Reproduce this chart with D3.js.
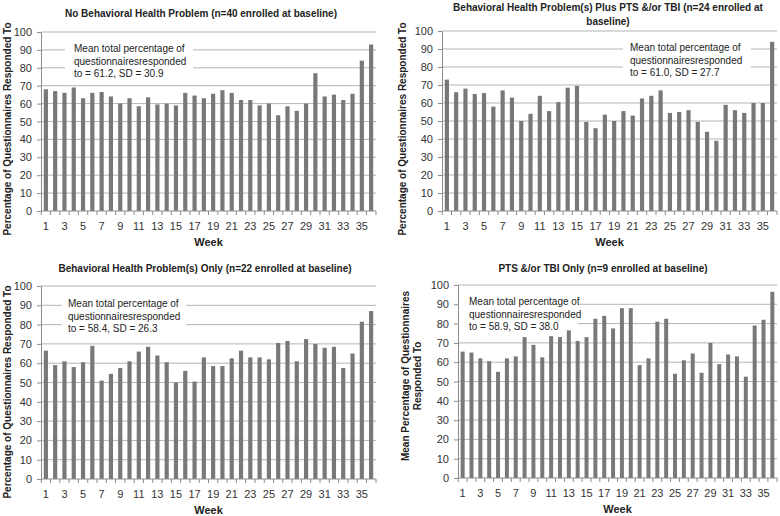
<!DOCTYPE html>
<html>
<head>
<meta charset="utf-8">
<script src="https://cdn.jsdelivr.net/npm/d3@7"></script>
<style>
  body { margin: 0; background: #fff; }
  text { font-family: "Liberation Sans", Arial, sans-serif; }
  .title, .ytitle, .xtitle { font-weight: bold; fill: #222; font-size: 10px; }
  .tick text { fill: #333; font-size: 11px; }
  .note { font-size: 10px; fill: #222; }
</style>
</head>
<body>
<div id="chart"></div>
<script>
// weeks on the x axis
const weeks = [1,2,3,4,5,6,7,8,9,10,11,12,13,14,15,16,17,18,19,20,21,22,23,24,25,26,27,28,29,30,31,32,33,34,35,36];
const yTicks = [0,10,20,30,40,50,60,70,80,90,100];

// percentage responded per week, one list per group
const noProblem = [68,67,66,69,63,66,66.5,64,60,63,58.5,63.5,59.5,60,59,66,64.5,63,65.5,67.5,66,62,62,59,60,53.5,58.5,56,60,77,64,65,62,65.5,84,93];
const plusPtsTbi = [73,66,68,65,65.5,58,67,63,50,54,64,55.5,60.5,68.5,69.5,49.5,46,53.5,50,55.5,53,62.5,64,67,54.5,55,56,49.5,44,39,59,56,54.5,60,60,94];
const problemOnly = [66.5,59,61,58,60.5,69,51,54.5,57.5,61,66,68.5,64,60.5,50,56,50.5,63,58.5,58.5,62.5,66.5,63,63,62,70.5,71.5,61,72.5,70,68,68.5,57.5,65,81.5,87];
const ptsTbiOnly = [65.5,65,62,60.5,55,62,63,73,69,62.5,73.5,73,76.5,71,73,82.5,84,77.5,88,88,58.5,62,81,82.5,54,61,64.5,54.5,70,59,64,63,52.5,79,82,96.5];

const titles = [
    ["No Behavioral  Health Problem (n=40 enrolled at baseline)"],
    ["Behavioral  Health Problem(s) Plus PTS &/or TBI (n=24 enrolled at", "baseline)"],
    ["Behavioral  Health Problem(s) Only (n=22 enrolled at baseline)"],
    ["PTS &/or TBI  Only (n=9 enrolled at baseline)"]
];
const yTitles = [
    ["Percentage of Questionnaires Responded  To"],
    ["Percentage of Questionnaires Responded  To"],
    ["Percentage of Questionnaires Responded  To"],
    ["Mean  Percentage of Questionnaires", "Responded  To"]
];
const notes = [
    ["Mean total percentage of", "questionnairesresponded", "to = 61.2, SD = 30.9"],
    ["Mean total percentage of", "questionnairesresponded", "to = 61.0, SD = 27.7"],
    ["Mean total percentage of", "questionnairesresponded", "to = 58.4, SD = 26.3"],
    ["Mean total percentage of", "questionnairesresponded", "to = 58.9, SD = 38.0"]
];
const series = [noProblem, plusPtsTbi, problemOnly, ptsTbiOnly];

// panel geometry (page pixels)
const panels = [
    {x0: 41, x1: 376, y0: 32, y1: 211, tx: 201, ty: 17, yx: 7, yc: 129, box: [65, 193, 38, 79], nx: 74, ny: 52},
    {x0: 442, x1: 777, y0: 31, y1: 211, tx: 608, ty: 11, yx: 402, yc: 129, box: [623, 751, 37, 79], nx: 630, ny: 51},
    {x0: 41, x1: 376, y0: 286, y1: 479, tx: 205, ty: 272, yx: 7, yc: 392, box: [62, 186, 292, 335], nx: 68, ny: 307},
    {x0: 458, x1: 777, y0: 285, y1: 478, tx: 603, ty: 272, yx: 405, yc: 376, box: [459, 578, 291, 334], nx: 469, ny: 305}
];

const svg = d3.select("#chart").append("svg")
    .attr("width", 780)
    .attr("height", 516);

panels.forEach(function(p, i) {
    const g = svg.append("g");
    const data = series[i];

    const x = d3.scaleBand()
        .domain(weeks)
        .range([p.x0, p.x1])
        .paddingInner(0.55)
        .paddingOuter(0.3);
    const y = d3.scaleLinear()
        .domain([0, 100])
        .range([p.y1, p.y0]);

    // gridlines
    g.selectAll(".grid")
        .data(yTicks.slice(1))
        .enter().append("line")
        .attr("x1", p.x0).attr("x2", p.x1)
        .attr("y1", d => y(d)).attr("y2", d => y(d))
        .attr("stroke", "#b4b4b4")
        .attr("stroke-width", 1);

    // note box covering gridlines
    g.append("rect")
        .attr("x", p.box[0]).attr("y", p.box[2])
        .attr("width", p.box[1] - p.box[0])
        .attr("height", p.box[3] - p.box[2])
        .attr("fill", "#fff");

    g.append("text")
        .attr("class", "note")
        .selectAll("tspan")
        .data(notes[i])
        .enter().append("tspan")
        .attr("x", p.nx)
        .attr("y", (d, k) => p.ny + k * 12.5)
        .text(d => d);

    // bars
    g.selectAll(".bar")
        .data(data)
        .enter().append("rect")
        .attr("x", (d, k) => x(weeks[k]))
        .attr("y", d => y(d))
        .attr("width", x.bandwidth())
        .attr("height", d => y(0) - y(d))
        .attr("fill", "#787878");

    // y axis
    const yAxis = g.append("g")
        .attr("transform", "translate(" + p.x0 + ",0)")
        .call(d3.axisLeft(y).tickValues(yTicks).tickSize(4).tickPadding(5));
    yAxis.selectAll("path, line").attr("stroke", "#8c8c8c");

    // x axis: ticks between weeks, labels on odd weeks
    const step = x.step();
    const bounds = weeks.map(w => x(w) - step * x.paddingInner() / 2).concat([p.x1]);
    g.append("line")
        .attr("x1", p.x0).attr("x2", p.x1)
        .attr("y1", p.y1).attr("y2", p.y1)
        .attr("stroke", "#8c8c8c");
    g.selectAll(".xtick")
        .data(bounds)
        .enter().append("line")
        .attr("x1", d => d).attr("x2", d => d)
        .attr("y1", p.y1).attr("y2", p.y1 + 4)
        .attr("stroke", "#8c8c8c");
    g.selectAll(".xlab")
        .data(weeks.filter(w => w % 2 === 1))
        .enter().append("text")
        .attr("class", "tick")
        .append("tspan")
        .attr("x", d => x(d) + x.bandwidth() / 2)
        .attr("y", p.y1 + 19)
        .attr("text-anchor", "middle")
        .style("font-size", "11px")
        .style("fill", "#333")
        .text(d => d);

    g.append("text")
        .attr("class", "xtitle")
        .attr("x", (p.x0 + p.x1) / 2)
        .attr("y", p.y1 + 35)
        .attr("text-anchor", "middle")
        .style("font-size", "11px")
        .text("Week");

    // title
    g.append("text")
        .attr("class", "title")
        .attr("text-anchor", "middle")
        .selectAll("tspan")
        .data(titles[i])
        .enter().append("tspan")
        .attr("x", p.tx)
        .attr("y", (d, k) => p.ty + k * 14)
        .text(d => d);

    // y title
    const lines = yTitles[i];
    g.append("text")
        .attr("class", "ytitle")
        .attr("text-anchor", "middle")
        .attr("transform", "translate(" + p.yx + "," + p.yc + ") rotate(-90)")
        .selectAll("tspan")
        .data(lines)
        .enter().append("tspan")
        .attr("x", 0)
        .attr("y", (d, k) => 4 + k * 12)
        .text(d => d);
});
</script>
</body>
</html>
